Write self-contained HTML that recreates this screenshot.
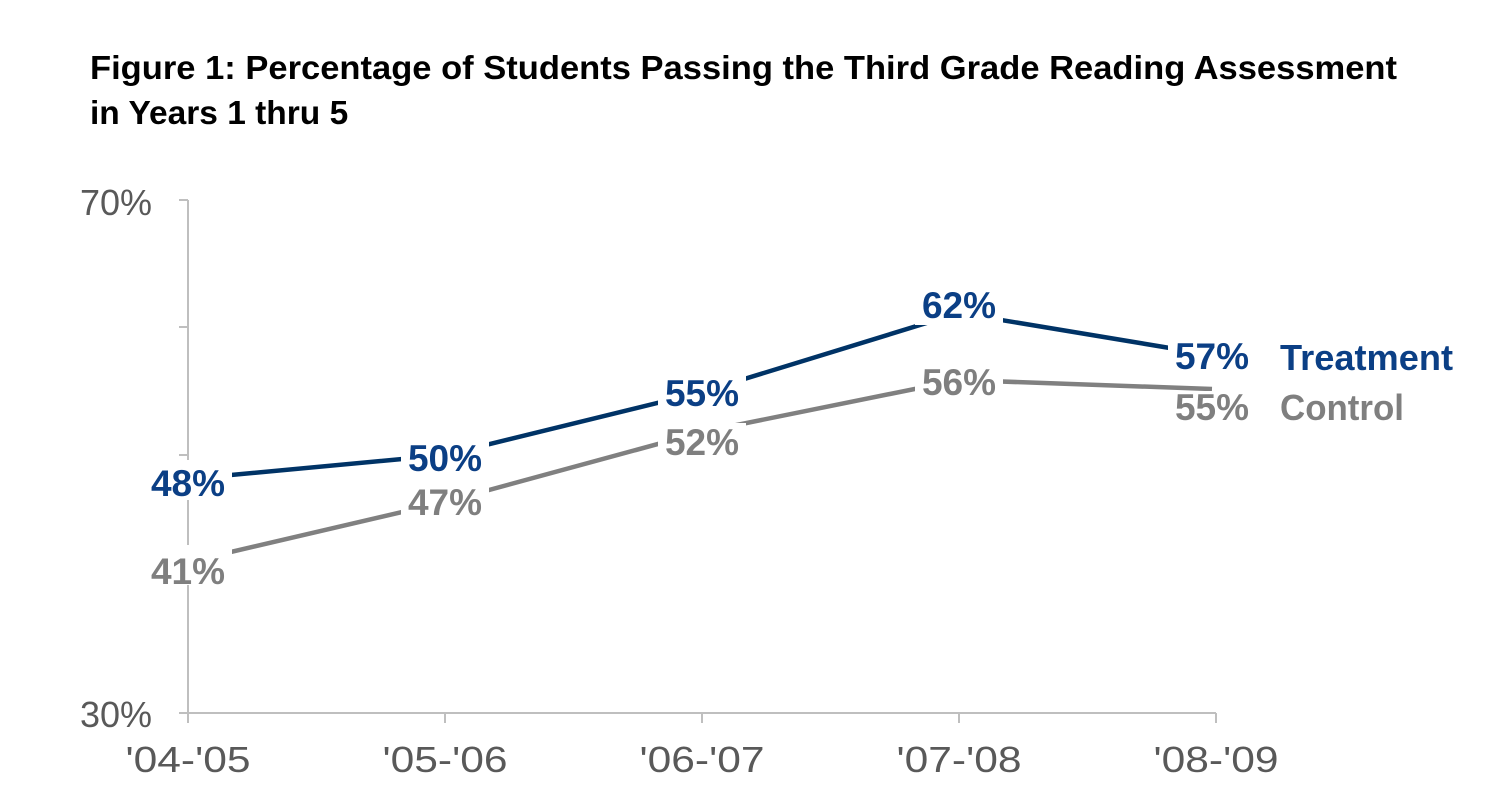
<!DOCTYPE html>
<html><head><meta charset="utf-8"><style>
body{margin:0;background:#fff;width:1502px;height:783px;overflow:hidden}
text{font-family:"Liberation Sans",sans-serif}
</style></head><body>
<svg width="1502" height="783" xmlns="http://www.w3.org/2000/svg">
<text x="90" y="79" font-size="33.5" font-weight="bold" fill="#000" textLength="1307" lengthAdjust="spacingAndGlyphs">Figure 1: Percentage of Students Passing the Third Grade Reading Assessment</text>
<text x="90" y="124" font-size="33.5" font-weight="bold" fill="#000">in Years 1 thru 5</text>
<g stroke="#bfbfbf" stroke-width="2" fill="none">
<line x1="188" y1="200" x2="188" y2="723"/>
<line x1="179" y1="713" x2="1216" y2="713"/>
<line x1="179" y1="200" x2="188" y2="200"/>
<line x1="179" y1="327" x2="188" y2="327"/>
<line x1="179" y1="455" x2="188" y2="455"/>
<line x1="179" y1="583" x2="188" y2="583"/>
<line x1="445" y1="713" x2="445" y2="723"/>
<line x1="702" y1="713" x2="702" y2="723"/>
<line x1="959" y1="713" x2="959" y2="723"/>
<line x1="1216" y1="713" x2="1216" y2="723"/>
</g>
<g font-size="36" fill="#595959" text-anchor="end">
<text x="152" y="215">70%</text>
<text x="152" y="727">30%</text>
</g>
<g font-size="36" fill="#595959" text-anchor="middle">
<text x="188" y="772" textLength="125" lengthAdjust="spacingAndGlyphs">'04-'05</text>
<text x="445" y="772" textLength="125" lengthAdjust="spacingAndGlyphs">'05-'06</text>
<text x="702" y="772" textLength="125" lengthAdjust="spacingAndGlyphs">'06-'07</text>
<text x="959" y="772" textLength="125" lengthAdjust="spacingAndGlyphs">'07-'08</text>
<text x="1216" y="772" textLength="125" lengthAdjust="spacingAndGlyphs">'08-'09</text>
</g>
<polyline points="188,562 445,502 702,432 959,380 1212,389" fill="none" stroke="#808080" stroke-width="4.5"/>
<polyline points="188,479 445,455 702,392 959,313 1212,355" fill="none" stroke="#003366" stroke-width="4.5"/>
<g font-size="37" text-anchor="middle" font-weight="bold">
<g fill="#fff">
<rect x="144" y="545" width="88" height="40"/><rect x="401" y="484" width="88" height="40"/>
<rect x="658" y="423" width="88" height="40"/><rect x="915" y="364" width="88" height="40"/>
<rect x="1168" y="391" width="88" height="36"/>
<rect x="144" y="460" width="88" height="40"/><rect x="401" y="437" width="88" height="40"/>
<rect x="658" y="372" width="88" height="40"/><rect x="915" y="285" width="88" height="40"/>
<rect x="1168" y="338" width="88" height="40"/>
</g>
<g fill="#7f7f7f">
<text x="188" y="584">41%</text><text x="445" y="515">47%</text>
<text x="702" y="455">52%</text><text x="959" y="395">56%</text>
<text x="1212" y="420">55%</text>
</g>
<g fill="#0b3f85">
<text x="188" y="496">48%</text><text x="445" y="471">50%</text>
<text x="702" y="406">55%</text><text x="959" y="318">62%</text>
<text x="1212" y="369">57%</text>
</g>
<text x="1280" y="370" text-anchor="start" fill="#0b3f85" font-size="36" textLength="173" lengthAdjust="spacingAndGlyphs">Treatment</text>
<text x="1280" y="420" text-anchor="start" fill="#7f7f7f" font-size="36" textLength="124" lengthAdjust="spacingAndGlyphs">Control</text>
</g>
</svg>
</body></html>
